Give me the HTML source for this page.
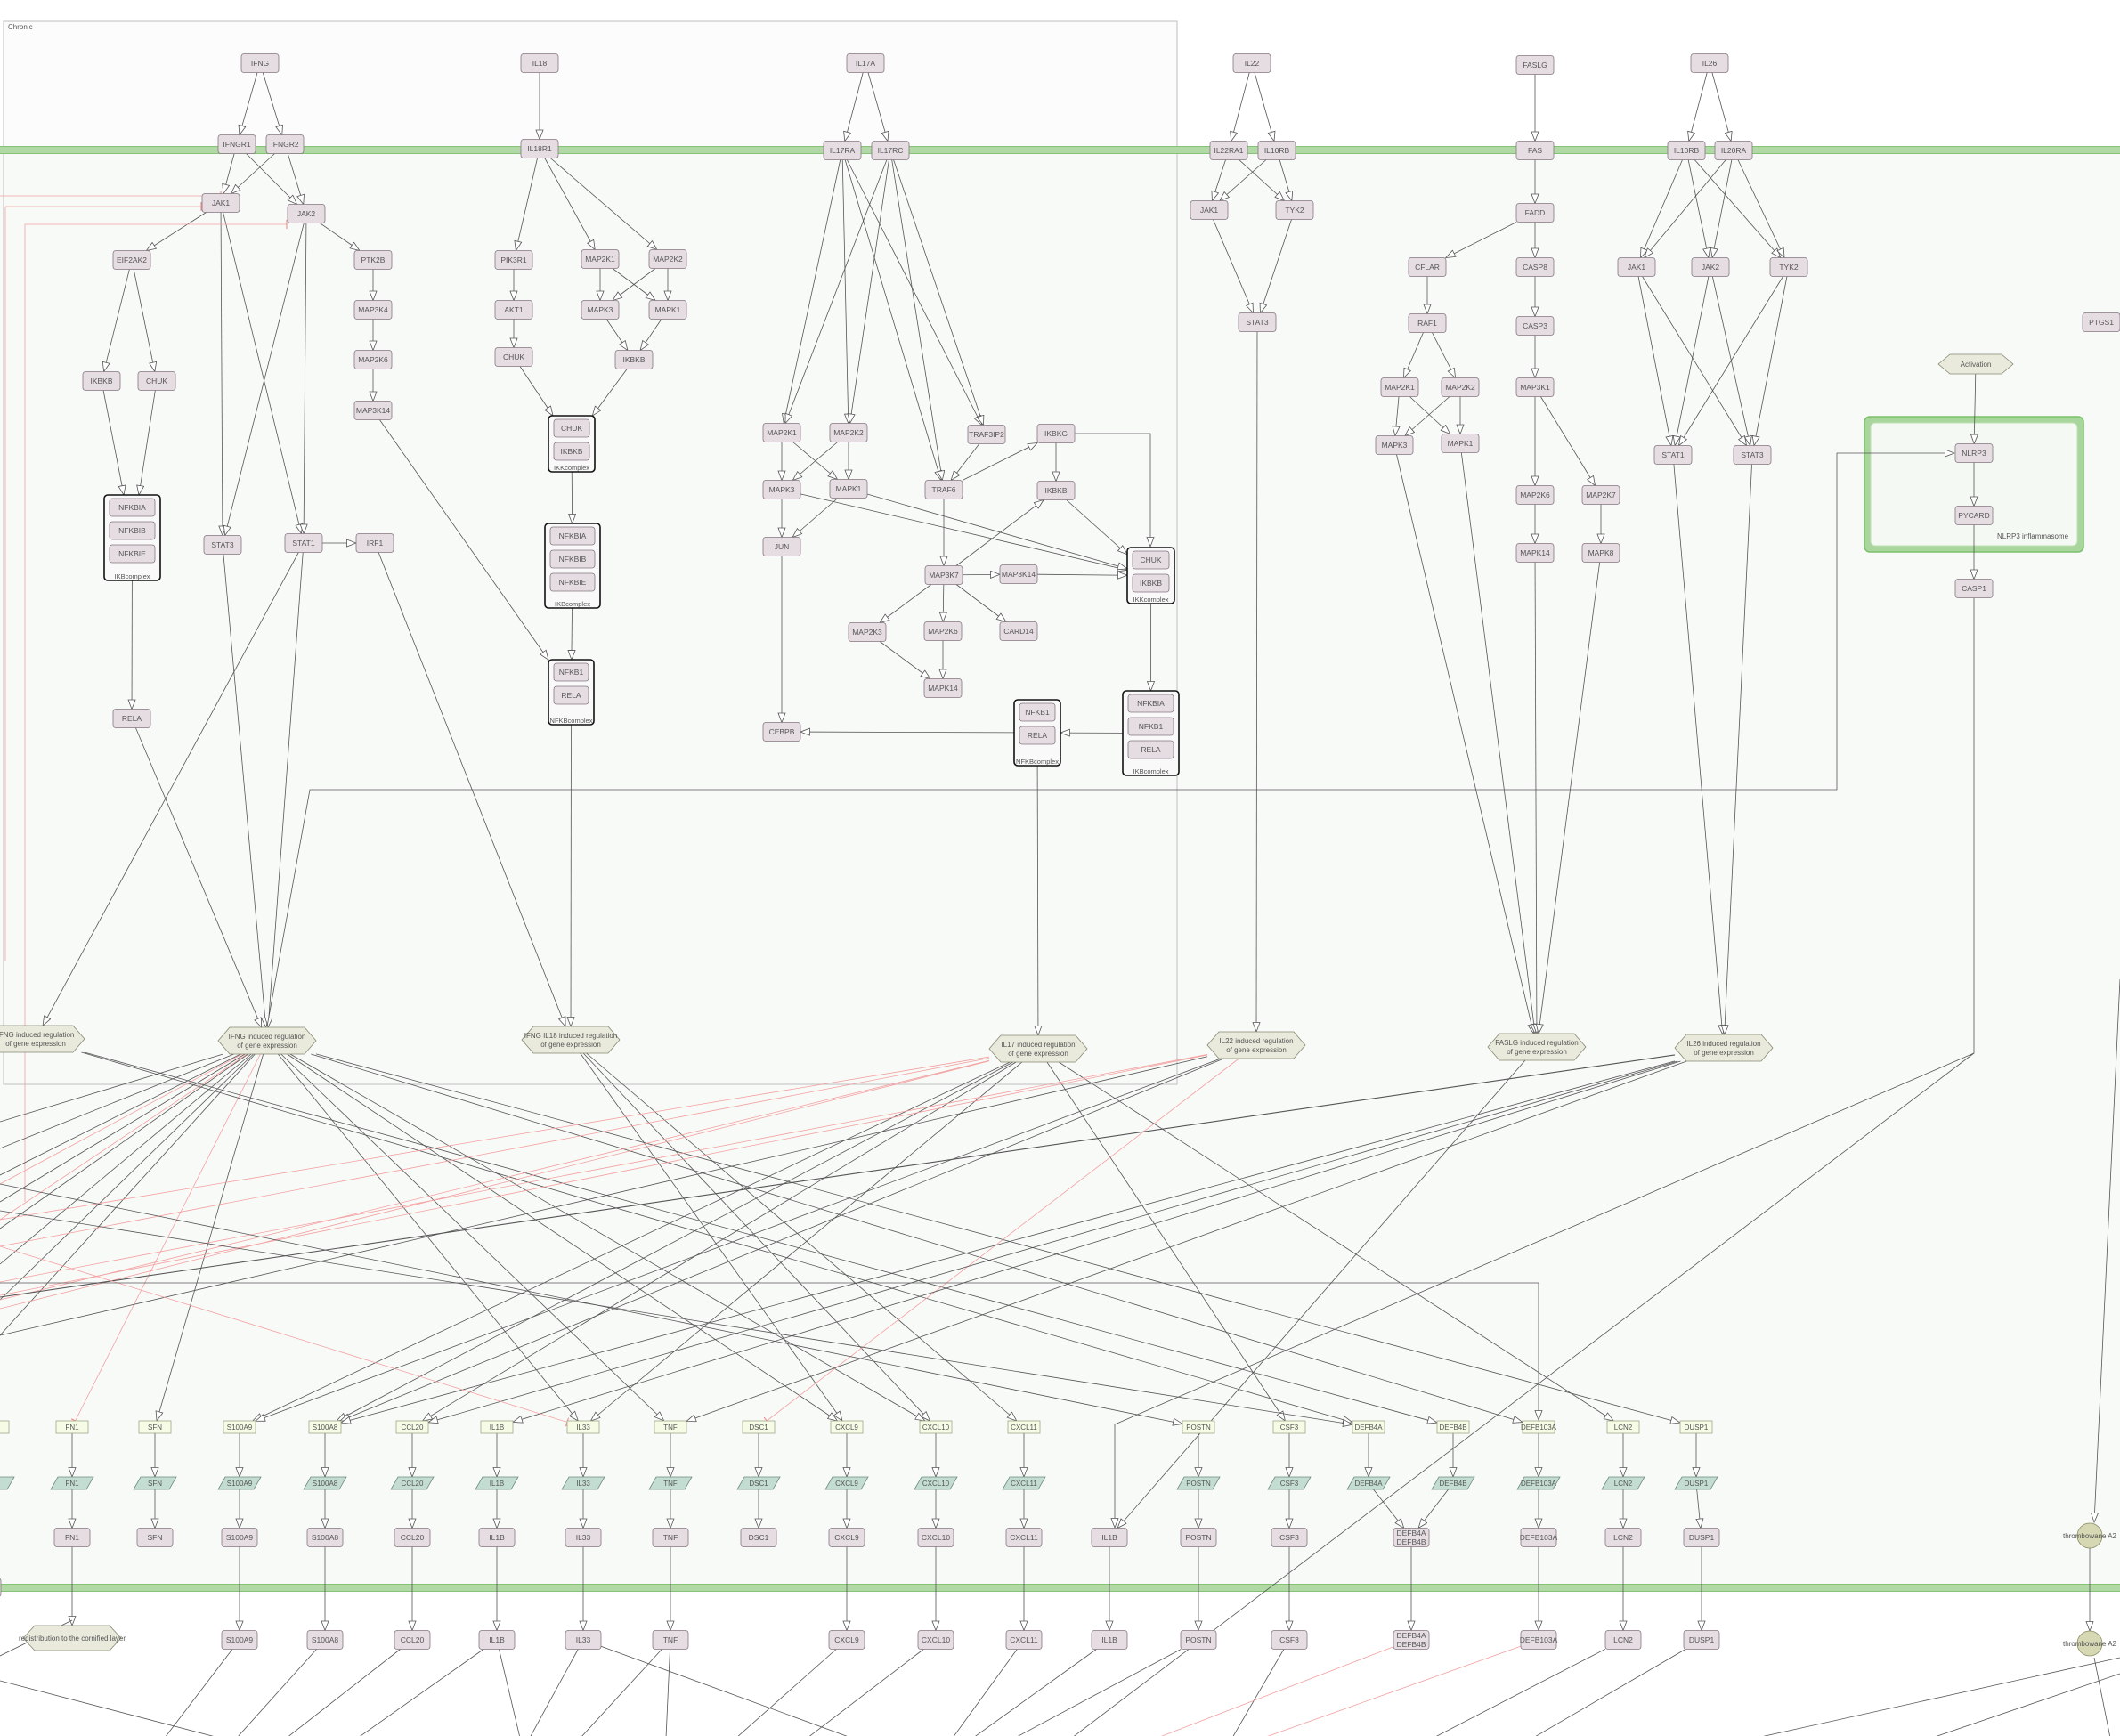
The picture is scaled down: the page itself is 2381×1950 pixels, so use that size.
<!DOCTYPE html>
<html><head><meta charset="utf-8">
<style>
html,body{margin:0;padding:0;background:#fff;}
svg{display:block;}
text{font-family:"Liberation Sans",sans-serif;font-size:8.5px;fill:#555;}
</style></head>
<body>
<svg id="s" xmlns="http://www.w3.org/2000/svg" width="2381" height="1950" viewBox="0 0 2381 1950">
<defs>
<marker id="a" markerUnits="userSpaceOnUse" markerWidth="12" markerHeight="10" refX="11" refY="4.5" orient="auto">
<path d="M0.5,0.5 L11,4.5 L0.5,8.5 z" fill="#fff" stroke="#555" stroke-width="0.8"/></marker>
<marker id="ar" markerUnits="userSpaceOnUse" markerWidth="4" markerHeight="10" refX="2" refY="5" orient="auto">
<path d="M2,0 L2,10" stroke="#f08080" stroke-width="1"/></marker>
</defs>
<rect x="0" y="0" width="2381" height="1950" fill="#fff"/>
<rect x="0" y="170" width="2381" height="1612" fill="#f8faf8"/>
<rect x="4" y="24" width="1318" height="146" fill="#fcfcfc"/>
<rect x="4" y="24" width="1318" height="1194" fill="none" stroke="#c8c8c8" stroke-width="1.2"/>
<text x="9" y="33" style="font-size:8px">Chronic</text>
<rect x="0" y="164" width="2381" height="9" fill="#b1d9a5"/>
<line x1="0" y1="164.5" x2="2381" y2="164.5" stroke="#86c276" stroke-width="1"/>
<line x1="0" y1="172.5" x2="2381" y2="172.5" stroke="#86c276" stroke-width="1"/>
<rect x="0" y="1779" width="2381" height="9" fill="#b1d9a5"/>
<line x1="0" y1="1779.5" x2="2381" y2="1779.5" stroke="#86c276"/>
<line x1="0" y1="1787.5" x2="2381" y2="1787.5" stroke="#86c276"/>
<rect x="2094" y="468" width="246" height="152" rx="6" fill="#a9d69c" stroke="#7cc06a" stroke-width="1.5"/>
<rect x="2101" y="475" width="232" height="138" rx="5" fill="#f5f9f4" stroke="#bfe0b5"/>
<text x="2243" y="605" style="font-size:8px">NLRP3 inflammasome</text>
<g id="e"></g>
<g id="n"></g>
</svg>
<script>
var S="http://www.w3.org/2000/svg",E=document.getElementById('e'),G=document.getElementById('n');
var N={};
function el(t,a,p){var e=document.createElementNS(S,t);for(var k in a)e.setAttribute(k,a[k]);(p||G).appendChild(e);return e;}
function tx(x,y,s,p,sz){var lines=s.split('\n');for(var i=0;i<lines.length;i++){var t=el('text',{x:x,y:y+3+(i-(lines.length-1)/2)*10,'text-anchor':'middle'},p);if(sz)t.style.fontSize=sz+'px';t.textContent=lines[i];}}
function P(id,x,y,l,w,h){N[id]={x:x,y:y,w:w||42,h:h||21};el('rect',{x:x-(w||42)/2,y:y-(h||21)/2,width:w||42,height:h||21,rx:3,fill:'#e6dde3',stroke:'#857580','stroke-width':0.8});tx(x,y,l||id.replace(/_.*/,''));}
function Gn(id,x,y,l){N[id]={x:x,y:y,w:36,h:14};el('rect',{x:x-18,y:y-7,width:36,height:14,fill:'#f5fbe4',stroke:'#a0a888','stroke-width':0.8});tx(x,y,l,null,8);}
function R(id,x,y,l){N[id]={x:x,y:y,w:44,h:14};el('path',{d:'M'+(x-24)+','+(y+7)+' L'+(x-16)+','+(y-7)+' L'+(x+24)+','+(y-7)+' L'+(x+16)+','+(y+7)+' z',fill:'#c4ddd2',stroke:'#6f8a80','stroke-width':0.8});tx(x,y,l,null,8);}
function H(id,x,y,l,w,h){w=w||110;h=h||30;N[id]={x:x,y:y,w:w,h:h};var a=w/2,b=h/2,c=13;el('path',{d:'M'+(x-a)+','+y+' L'+(x-a+c)+','+(y-b)+' L'+(x+a-c)+','+(y-b)+' L'+(x+a)+','+y+' L'+(x+a-c)+','+(y+b)+' L'+(x-a+c)+','+(y+b)+' z',fill:'#e9eadc',stroke:'#858870','stroke-width':0.8});tx(x,y,l,null,8);}
function C(id,x,y,l){N[id]={x:x,y:y,w:28,h:28};el('circle',{cx:x,cy:y,r:14,fill:'#d6d8b4',stroke:'#888a60','stroke-width':0.8});tx(x,y,l,null,8);}
function BX(id,x1,y1,x2,y2,l,items){N[id]={x:(x1+x2)/2,y:(y1+y2)/2,w:x2-x1,h:y2-y1};el('rect',{x:x1,y:y1,width:x2-x1,height:y2-y1,rx:4,fill:'#f9f9f9',stroke:'#111','stroke-width':1.6});var cx=(x1+x2)/2;for(var i=0;i<items.length;i++){var yy=y1+14+i*26;el('rect',{x:x1+6,y:yy-10,width:x2-x1-12,height:20,rx:3,fill:'#e6dde3',stroke:'#857580','stroke-width':0.8});tx(cx,yy,items[i]);}tx(cx,y2-5,l,null,7.5);}
function clip(n,dx,dy){var a=n.w/2,b=n.h/2;var t=Math.min(dx?a/Math.abs(dx):1e9,dy?b/Math.abs(dy):1e9);return [n.x+dx*t,n.y+dy*t];}
function pt(p){return typeof p=='string'?N[p]:{x:p[0],y:p[1],w:0,h:0};}
function L(f,t,o){o=o||{};var A=pt(f),B=pt(t);var dx=B.x-A.x,dy=B.y-A.y;var s=A.w?clip(A,dx,dy):[A.x,A.y];var e=B.w?clip(B,-dx,-dy):[B.x,B.y];
 if(o.sx!=null)s[0]+=o.sx; if(o.ex!=null)e[0]+=o.ex;
 var at={x1:s[0],y1:s[1],x2:e[0],y2:e[1],stroke:o.red?'#f3a0a0':(o.c||'#555'),'stroke-width':o.sw||0.8};if(!o.na)at['marker-end']=o.red?'url(#ar)':'url(#a)';el('line',at,E);}
function PL(pts,o){o=o||{};el('polyline',{points:pts.map(function(p){return p.join(',')}).join(' '),fill:'none',stroke:o.red?'#f3a0a0':'#555','stroke-width':0.8,'marker-end':o.na?'':(o.red?'url(#ar)':'url(#a)')},E);}

// ---- IFNG branch
P('IFNG',292,71);P('IFNGR1',266,162);P('IFNGR2',320,162);P('JAK1',248,228);P('JAK2',344,240);
P('EIF2AK2',148,292);P('PTK2B',419,292);P('MAP3K4',419,348);P('MAP2K6',419,404);P('MAP3K14',419,461);
P('IKBKB_a',114,428);P('CHUK_a',176,428);
BX('IkB1',117,556,180,652,'IKBcomplex',['NFKBIA','NFKBIB','NFKBIE']);
P('RELA_a',148,807);P('STAT3_a',250,612);P('STAT1_a',341,610);P('IRF1',421,610);
// ---- IL18
P('IL18',606,71);P('IL18R1',606,167);P('PIK3R1',577,292);P('AKT1',577,348);P('CHUK_b',577,401);
P('MAP2K1_b',674,291);P('MAP2K2_b',750,291);P('MAPK3_b',674,348);P('MAPK1_b',750,348);P('IKBKB_b',712,404);
BX('IKK1',616,467,668,530,'IKKcomplex',['CHUK','IKBKB']);
BX('IkB2',612,588,674,683,'IKBcomplex',['NFKBIA','NFKBIB','NFKBIE']);
BX('NFkB2',616,741,667,814,'NFKBcomplex',['NFKB1','RELA']);
// ---- IL17
P('IL17A',972,71);P('IL17RA',946,169);P('IL17RC',1000,169);
P('MAP2K1_c',878,486);P('MAP2K2_c',953,486);P('TRAF3IP2',1108,488);P('IKBKG',1186,487);
P('MAPK3_c',878,550);P('MAPK1_c',953,549);P('TRAF6',1060,550);P('IKBKB_c',1186,551);
P('JUN',878,614);P('MAP3K7',1060,646);P('MAP3K14_c',1144,645);
P('MAP2K3',974,710);P('MAP2K6_c',1059,709);P('CARD14',1144,709);P('MAPK14_c',1059,773);P('CEBPB',878,822);
BX('NFkB3',1139,786,1191,860,'NFKBcomplex',['NFKB1','RELA']);
BX('IKK2',1266,615,1319,678,'IKKcomplex',['CHUK','IKBKB']);
BX('IkB3',1261,776,1324,871,'IKBcomplex',['NFKBIA','NFKB1','RELA']);
// ---- IL22
P('IL22',1406,71);P('IL22RA1',1380,169);P('IL10RB_d',1434,169);P('JAK1_d',1358,236);P('TYK2_d',1454,236);P('STAT3_d',1412,362);
// ---- FAS
P('FASLG',1724,73);P('FAS',1724,169);P('FADD',1724,239);P('CFLAR',1603,300);P('CASP8',1724,300);P('RAF1',1603,363);P('CASP3',1724,366);
P('MAP2K1_e',1572,435);P('MAP2K2_e',1640,435);P('MAP3K1',1724,435);P('MAPK3_e',1566,500);P('MAPK1_e',1640,498);
P('MAP2K6_e',1724,556);P('MAP2K7',1798,556);P('MAPK14_e',1724,621);P('MAPK8',1798,621);
// ---- IL26
P('IL26',1920,71);P('IL10RB_f',1894,169);P('IL20RA',1947,169);P('JAK1_f',1838,300);P('JAK2_f',1921,300);P('TYK2_f',2009,300);
P('STAT1_f',1879,511);P('STAT3_f',1968,511);
H('ACT',2219,409,'Activation',84,22);P('NLRP3',2217,509);P('PYCARD',2217,579);P('CASP1',2217,661);P('PTGS1',2360,362);
// ---- hexagons
H('hL',40,1167,'IFNG induced regulation\nof gene expression');
H('hIFNG',300,1169,'IFNG induced regulation\nof gene expression');
H('hIL18',641,1168,'IFNG IL18 induced regulation\nof gene expression');
H('hIL17',1166,1178,'IL17 induced regulation\nof gene expression');
H('hIL22',1411,1174,'IL22 induced regulation\nof gene expression');
H('hFAS',1726,1176,'FASLG induced regulation\nof gene expression');
H('hIL26',1936,1177,'IL26 induced regulation\nof gene expression');
// ---- gene / rna / protein rows
var genes=[['FN1',81],['SFN',174],['S100A9',269],['S100A8',365],['CCL20',463],['IL1B',558],['IL33',655],['TNF',753],['DSC1',852],['CXCL9',951],['CXCL10',1051],['CXCL11',1150],['POSTN',1346],['CSF3',1448],['DEFB4A',1537],['DEFB4B',1632],['DEFB103A',1728],['LCN2',1823],['DUSP1',1905]];
Gn('g_x',-8,1603,'');R('r_x',-8,1666,'');
genes.forEach(function(g){Gn('g_'+g[0],g[1],1603,g[0]);R('r_'+g[0],g[1],1666,g[0]);});
var prots=[['FN1',81],['SFN',174],['S100A9',269],['S100A8',365],['CCL20',463],['IL1B',558],['IL33',655],['TNF',753],['DSC1',852],['CXCL9',951],['CXCL10',1051],['CXCL11',1150],['IL1B2',1246],['POSTN',1346],['CSF3',1448],['DEF',1585],['DEFB103A',1728],['LCN2',1823],['DUSP1',1911]];
prots.forEach(function(p){var l=p[0]=='IL1B2'?'IL1B':p[0]=='DEF'?'DEFB4A\nDEFB4B':p[0];P('p_'+p[0],p[1],1727,l,40,21);});
P('p_left',-14,1783,'',30,21);
C('thr1',2347,1725,'thrombowane A2');
H('redis',81,1840,'redistribution to the cornified layer',110,28);
var ex=[['S100A9',269],['S100A8',365],['CCL20',463],['IL1B',558],['IL33',655],['TNF',753],['CXCL9',951],['CXCL10',1051],['CXCL11',1150],['IL1B2',1246],['POSTN',1346],['CSF3',1448],['DEF',1585],['DEFB103A',1728],['LCN2',1823],['DUSP1',1911]];
ex.forEach(function(p){var l=p[0]=='IL1B2'?'IL1B':p[0]=='DEF'?'DEFB4A\nDEFB4B':p[0];P('x_'+p[0],p[1],1842,l,40,21);});
C('thr2',2347,1846,'thrombowane A2');

// ---- edges
var ed=[['IFNG','IFNGR1'],['IFNG','IFNGR2'],['IFNGR1','JAK1'],['IFNGR1','JAK2'],['IFNGR2','JAK1'],['IFNGR2','JAK2'],['JAK1','EIF2AK2'],['JAK2','PTK2B'],['PTK2B','MAP3K4'],['MAP3K4','MAP2K6'],['MAP2K6','MAP3K14'],['EIF2AK2','IKBKB_a'],['EIF2AK2','CHUK_a'],['IKBKB_a','IkB1'],['CHUK_a','IkB1'],['IkB1','RELA_a'],['JAK1','STAT3_a'],['JAK1','STAT1_a'],['JAK2','STAT3_a'],['JAK2','STAT1_a'],['STAT1_a','IRF1'],['RELA_a','hIFNG'],['STAT3_a','hIFNG'],['STAT1_a','hIFNG'],['STAT1_a','hL'],['IRF1','hIL18'],
['IL18','IL18R1'],['IL18R1','PIK3R1'],['IL18R1','MAP2K1_b'],['IL18R1','MAP2K2_b'],['PIK3R1','AKT1'],['AKT1','CHUK_b'],['MAP2K1_b','MAPK3_b'],['MAP2K1_b','MAPK1_b'],['MAP2K2_b','MAPK3_b'],['MAP2K2_b','MAPK1_b'],['MAPK3_b','IKBKB_b'],['MAPK1_b','IKBKB_b'],['CHUK_b','IKK1'],['IKBKB_b','IKK1'],['IKK1','IkB2'],['IkB2','NFkB2'],['NFkB2','hIL18'],['MAP3K14','NFkB2'],
['IL17A','IL17RA'],['IL17A','IL17RC'],['IL17RA','MAP2K1_c'],['IL17RA','MAP2K2_c'],['IL17RA','TRAF6'],['IL17RA','TRAF3IP2'],['IL17RC','MAP2K1_c'],['IL17RC','MAP2K2_c'],['IL17RC','TRAF6'],['IL17RC','TRAF3IP2'],
['MAP2K1_c','MAPK3_c'],['MAP2K1_c','MAPK1_c'],['MAP2K2_c','MAPK3_c'],['MAP2K2_c','MAPK1_c'],['MAPK3_c','JUN'],['MAPK1_c','JUN'],['JUN','CEBPB'],['MAPK3_c','IKK2'],['MAPK1_c','IKK2'],['TRAF3IP2','TRAF6'],['TRAF6','MAP3K7'],['TRAF6','IKBKG'],['IKBKG','IKBKB_c'],['MAP3K7','IKBKB_c'],['IKBKB_c','IKK2'],['MAP3K7','MAP3K14_c'],['MAP3K14_c','IKK2'],['MAP3K7','MAP2K3'],['MAP3K7','MAP2K6_c'],['MAP3K7','CARD14'],['MAP2K3','MAPK14_c'],['MAP2K6_c','MAPK14_c'],['IKK2','IkB3'],['IkB3','NFkB3'],['NFkB3','CEBPB'],['NFkB3','hIL17'],
['IL22','IL22RA1'],['IL22','IL10RB_d'],['IL22RA1','JAK1_d'],['IL22RA1','TYK2_d'],['IL10RB_d','JAK1_d'],['IL10RB_d','TYK2_d'],['JAK1_d','STAT3_d'],['TYK2_d','STAT3_d'],['STAT3_d','hIL22'],
['FASLG','FAS'],['FAS','FADD'],['FADD','CFLAR'],['FADD','CASP8'],['CASP8','CASP3'],['CFLAR','RAF1'],['RAF1','MAP2K1_e'],['RAF1','MAP2K2_e'],['MAP2K1_e','MAPK3_e'],['MAP2K1_e','MAPK1_e'],['MAP2K2_e','MAPK3_e'],['MAP2K2_e','MAPK1_e'],['CASP3','MAP3K1'],['MAP3K1','MAP2K6_e'],['MAP3K1','MAP2K7'],['MAP2K6_e','MAPK14_e'],['MAP2K7','MAPK8'],['MAPK3_e','hFAS'],['MAPK1_e','hFAS'],['MAPK14_e','hFAS'],['MAPK8','hFAS'],
['IL26','IL10RB_f'],['IL26','IL20RA'],['IL10RB_f','JAK1_f'],['IL10RB_f','JAK2_f'],['IL10RB_f','TYK2_f'],['IL20RA','JAK1_f'],['IL20RA','JAK2_f'],['IL20RA','TYK2_f'],['JAK1_f','STAT1_f'],['JAK1_f','STAT3_f'],['JAK2_f','STAT1_f'],['JAK2_f','STAT3_f'],['TYK2_f','STAT1_f'],['TYK2_f','STAT3_f'],['STAT1_f','hIL26'],['STAT3_f','hIL26'],
['ACT','NLRP3'],['NLRP3','PYCARD'],['PYCARD','CASP1']];
ed.forEach(function(e){L(e[0],e[1]);});
// IKBKG -> IKK2 elbow
PL([[1207,487],[1292,487],[1292,614]]);
// gene->rna->protein->ext
genes.forEach(function(g){L('g_'+g[0],'r_'+g[0]);});
L('g_x','r_x');
var gp={FN1:'FN1',SFN:'SFN',S100A9:'S100A9',S100A8:'S100A8',CCL20:'CCL20',IL1B:'IL1B',IL33:'IL33',TNF:'TNF',DSC1:'DSC1',CXCL9:'CXCL9',CXCL10:'CXCL10',CXCL11:'CXCL11',POSTN:'POSTN',CSF3:'CSF3',DEFB4A:'DEF',DEFB4B:'DEF',DEFB103A:'DEFB103A',LCN2:'LCN2',DUSP1:'DUSP1'};
genes.forEach(function(g){L('r_'+g[0],'p_'+gp[g[0]]);});
ex.forEach(function(p){L('p_'+p[0],'x_'+p[0]);});
L('p_FN1','redis');
L('thr1','thr2');
// CASP1 and activation links
PL([[2217,672],[2217,1183],[1252,1600],[1252,1716]]);
el('line',{x1:2217,y1:1183,x2:1200,y2:1955,stroke:'#555','stroke-width':0.8},E);
PL([[2381,1100],[2352,1710]]);
PL([[300,1153],[348,887],[2063,887],[2063,509],[2195,509]]);
// red inhibition lines
PL([[0,220],[248,220]],{red:1});PL([[6,232],[226,232]],{red:1});PL([[6,232],[6,1080]],{red:1,na:1});
PL([[28,1350],[28,252],[322,252]],{red:1});
// hex -> genes
function HG(h,g,o){L(h,g,o);}
['g_SFN','g_IL33','g_TNF','g_CXCL9','g_CXCL10','g_DEFB103A','g_DUSP1'].forEach(function(g){HG('hIFNG',g);});
HG('hIFNG','g_FN1',{red:1});
[[0,1260],[0,1290],[0,1320],[0,1350],[0,1380],[0,1420],[0,1460],[0,1500]].forEach(function(p){L('hIFNG',p,{na:1});});
[[0,1330],[0,1370]].forEach(function(p){L('hIFNG',p,{red:1,na:1});});
L('hL','g_DEFB4A');L('hL','g_DEFB4B');
['g_CXCL9','g_CXCL10','g_CXCL11'].forEach(function(g){HG('hIL18',g);});
['g_S100A9','g_S100A8','g_CCL20','g_IL33','g_CSF3','g_LCN2'].forEach(function(g){HG('hIL17',g);});
[[0,1370],[0,1400],[0,1460],[0,1470]].forEach(function(p){L('hIL17',p,{red:1,na:1});});
[[0,1440],[0,1455]].forEach(function(p){L('hIL22',p,{red:1,na:1});});
HG('hIL22','g_DSC1',{red:1});HG('hIL22','g_S100A9');HG('hIL22','g_S100A8');
L('hIL22',[0,1500],{na:1});
HG('hFAS','p_IL1B2');
['g_S100A8','g_CCL20','g_IL1B','g_TNF'].forEach(function(g){HG('hIL26',g);});
L('hIL26',[0,1457],{na:1,sw:1.1});
L([0,1400],'g_IL33',{red:1});
PL([[0,1441],[1728,1441],[1728,1595]]);
L([0,1330],'g_POSTN');L([0,1360],'g_DEFB4A');
// lines off bottom
[['x_S100A9',185],['x_S100A8',266],['x_CCL20',322],['x_IL1B',402],['x_IL1B',584],['x_IL33',595],['x_IL33',956],['x_TNF',652],['x_TNF',748],['x_CXCL9',827],['x_CXCL10',907],['x_CXCL11',1070],['x_IL1B2',1093],['x_POSTN',1140],['x_CSF3',1384],['x_LCN2',1610],['x_DUSP1',1722]].forEach(function(a){L(a[0],[a[1],1952],{na:1});});
L('x_DEF',[1300,1952],{red:1,na:1});L('x_DEFB103A',[1419,1952],{red:1,na:1});
el('line',{x1:0,y1:1888,x2:246,y2:1952,stroke:'#555','stroke-width':0.8},E);
el('line',{x1:0,y1:1860,x2:81,y2:1820,stroke:'#555','stroke-width':0.8},E);
el('line',{x1:2381,y1:1862,x2:1973,y2:1952,stroke:'#555','stroke-width':0.8},E);
el('line',{x1:2381,y1:1880,x2:2170,y2:1952,stroke:'#555','stroke-width':0.8},E);
el('line',{x1:2352,y1:1862,x2:2370,y2:1952,stroke:'#555','stroke-width':0.8},E);
</script>
</body></html>
